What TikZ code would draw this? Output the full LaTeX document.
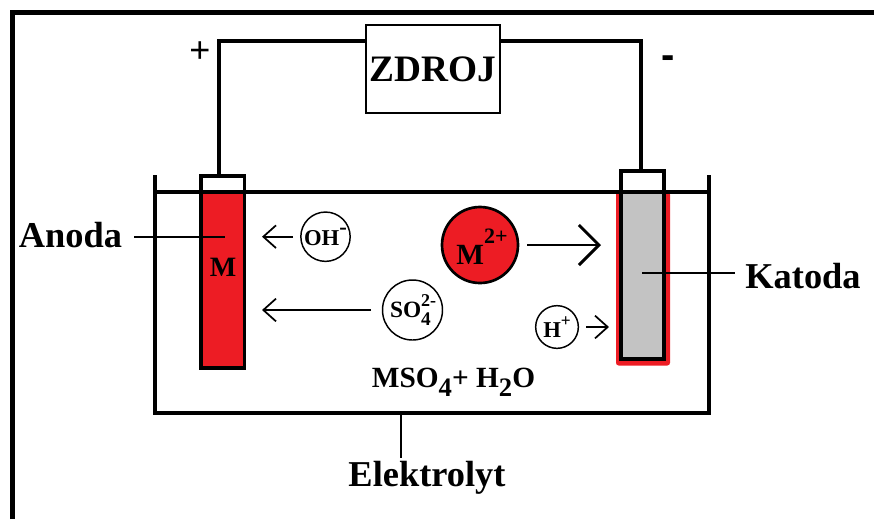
\documentclass[tikz,border=0pt]{standalone}
\usepackage{fontspec}
\setmainfont{Liberation Serif}
\newfontfamily\plusfont{Liberation Sans}
\usetikzlibrary{arrows.meta}
\definecolor{metalred}{RGB}{237,28,36}
\definecolor{cathgray}{RGB}{195,195,195}
\newcommand{\fsz}[1]{\fontsize{#1}{#1}\selectfont}
\newcommand{\upb}[2]{\raisebox{#1}{#2}}
\tikzset{
  wire/.style={line width=2.3pt,black},
  thin lead/.style={line width=1.1pt,black},
  tank/.style={line width=2.3pt,black},
  ion/.style={circle,draw=black,line width=1.1pt,inner sep=0pt,fill=white,font=\bfseries},
  flow/.style={line width=1.3pt,black,-{Straight Barb[length=9.5pt,width=17pt,line width=1.3pt]}},
  bigflow/.style={line width=2.2pt,black,-{Straight Barb[length=15pt,width=30pt,line width=2.2pt]}},
  lab/.style={font=\bfseries\fsz{27.3},inner sep=0pt},
}
\begin{document}
\begin{tikzpicture}[x=0.75pt,y=-0.75pt]
\useasboundingbox (0,0) rectangle (874,519);
% outer frame
\draw[line width=3.8pt,black] (12.5,519) -- (12.5,12.5) -- (874,12.5);
% tank
\draw[tank] (155,175) -- (155,413) -- (709,413) -- (709,175);
% electrodes
\fill[metalred] (201,192) rectangle (244.5,368);
\draw[wire] (201,176) rectangle (244.5,368);
\coordinate (anodetop) at (219,176);
\fill[metalred,rounded corners=2pt] (616,192) rectangle (670,365.5);
\fill[cathgray] (621,192) rectangle (664,359);
\draw[wire] (621,171) rectangle (664,359);
\coordinate (cathodetop) at (641,171);
\draw[tank] (155,192) -- (710,192);
% source
\node[draw=black,line width=1.6pt,minimum width=100.5pt,minimum height=66pt,inner sep=0pt,font=\bfseries\fsz{28}] (zdroj) at (433,69) {ZDROJ};
\draw[wire] (anodetop) -- (219,41) -- (zdroj.west |- 0,41);
\draw[wire] (cathodetop) -- (641,41) -- (zdroj.east |- 0,41);
\node[font=\plusfont\fsz{27}] (plus) at (200,52) {+};
\node[font=\plusfont\bfseries\fsz{30}] (minus) at (668,62) {-};
% ions
\node[ion,minimum size=37pt] (oh) at (325.5,236.7) {\fsz{17}OH\upb{1.05ex}{\fsz{17}-}};
\node[ion,minimum size=45pt] (so) at (412.5,310) {\fsz{17.5}SO\rlap{\upb{1.1ex}{\fsz{13.5}2-}}\upb{-0.75ex}{\fsz{14.5}4}\phantom{\fsz{9}-}};
\node[ion,line width=2pt,fill=metalred,minimum size=57pt] (m) at (480,245) {};
\node[font=\bfseries,inner sep=0pt] (mtext) at (482,246.5) {\fsz{22}M\upb{1.6ex}{\fsz{16.5}2+}};
\node[ion,minimum size=32pt] (h) at (557,327) {\fsz{17}H\upb{1.05ex}{\fsz{13}+}};
\node[font=\bfseries\fsz{21},inner sep=0pt] (mlabel) at (223,267) {M};
% ion arrows
\coordinate (ohend) at (262,236.7);
\coordinate (soend) at (262,310);
\coordinate (mend) at (601,245);
\coordinate (hend) at (609,327);
\draw[flow] ([xshift=-5.2pt]oh.west) -- (ohend);
\draw[flow] ([xshift=-8pt]so.west) -- (soend);
\draw[bigflow] ([xshift=6pt]m.east) -- (mend);
\draw[flow] ([xshift=5.5pt]h.east) -- (hend);
% labels and leads
\node[lab] (anoda) at (70.5,235) {Anoda};
\node[lab] (katoda) at (803,276) {Katoda};
\node[lab] (elektrolyt) at (427,478) {Elektrolyt};
\coordinate (anodein) at (225,237);
\coordinate (cathin) at (642,273);
\coordinate (tankbottom) at (401,413);
\draw[thin lead] (134,237) -- (anodein);
\draw[thin lead] (cathin) -- (735,273);
\draw[thin lead] (tankbottom) -- (401,458);
\node[font=\bfseries\fsz{22},inner sep=0pt] (solution) at (453.5,382) {MSO\upb{-0.7ex}{\fsz{20}4}+ H\upb{-0.7ex}{\fsz{20}2}O};
\end{tikzpicture}
\end{document}
